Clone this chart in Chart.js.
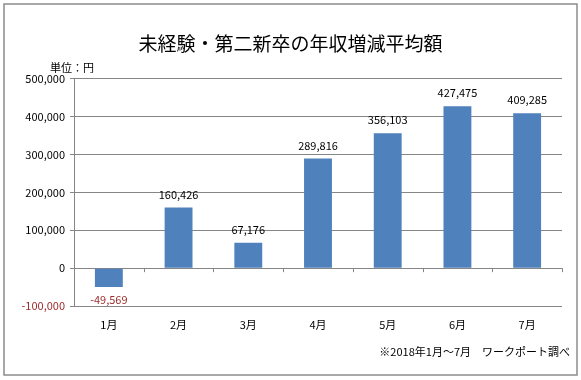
<!DOCTYPE html>
<html><head><meta charset="utf-8">
<script src="https://cdn.jsdelivr.net/npm/chart.js@4/dist/chart.umd.min.js"></script>
<style>html,body{margin:0;padding:0;background:#fff;}canvas{display:block;}</style>
</head><body>
<canvas id="c" width="581" height="380"></canvas>
<script>
const categories = ['1月','2月','3月','4月','5月','6月','7月'];
const values = [-49569, 160426, 67176, 289816, 356103, 427475, 409285];
const yTicks = [-100000, 0, 100000, 200000, 300000, 400000, 500000];
const titleText = '未経験・第二新卒の年収増減平均額';
const unitText = '単位：円';
const noteText = '※2018年1月〜7月　ワークポート調べ';

const JP = '"Noto Sans CJK JP", "Noto Sans", sans-serif';
const NEG = '#9b2d2d';
const fmt = v => v.toLocaleString('en-US');

const extras = {
  id: 'extras',
  beforeDraw(chart) {
    const c = chart.ctx;
    c.save();
    c.fillStyle = '#fff';
    c.fillRect(0, 0, chart.width, chart.height);
    c.strokeStyle = '#8c8c8c';
    c.lineWidth = 1.5;
    c.strokeRect(4, 4, 573, 371);
    c.restore();
  },
  afterDatasetsDraw(chart) {
    const c = chart.ctx;
    const x = chart.scales.x, y = chart.scales.y;
    const y0 = y.getPixelForValue(0);
    c.save();
    c.strokeStyle = '#868686';
    c.lineWidth = 1;
    for (let i = 0; i <= categories.length; i++) {
      const px = Math.round(x.getPixelForValue(i - 0.5)) + 0.5;
      c.beginPath(); c.moveTo(px, y0); c.lineTo(px, y0 + 4); c.stroke();
    }
    c.font = '11px ' + JP;
    c.textAlign = 'center';
    c.textBaseline = 'middle';
    const meta = chart.getDatasetMeta(0);
    meta.data.forEach((el, i) => {
      const v = values[i];
      c.fillStyle = v < 0 ? NEG : '#000';
      c.fillText(fmt(v), el.x, v < 0 ? el.y + 13 : el.y - 13);
    });
    c.fillStyle = '#000';
    c.textAlign = 'left';
    c.font = '11px ' + JP;
    c.fillText(unitText, 50, 68);
    c.textAlign = 'right';
    c.fillText(noteText, 570, 352);
    c.restore();
  }
};

new Chart(document.getElementById('c'), {
  type: 'bar',
  data: {
    labels: categories,
    datasets: [{
      data: values,
      backgroundColor: '#4f81bd',
      borderWidth: 0,
      categoryPercentage: 1,
      barPercentage: 0.4
    }]
  },
  options: {
    responsive: false,
    animation: false,
    devicePixelRatio: 1,
    layout: { padding: { top: 20, right: 19, bottom: 0, left: 19 } },
    plugins: {
      legend: { display: false },
      tooltip: { enabled: false },
      title: {
        display: true,
        text: titleText,
        color: '#000',
        font: { family: JP, size: 19, weight: 'normal' },
        padding: { top: 12, bottom: 24 }
      }
    },
    scales: {
      x: {
        grid: { display: false, drawTicks: false },
        border: { display: false },
        ticks: { color: '#000', font: { family: JP, size: 11 }, padding: 12 },
        afterFit(s) { s.height = 74; }
      },
      y: {
        min: -100000, max: 500000,
        afterBuildTicks(s) { s.ticks = yTicks.map(v => ({ value: v })); },
        grid: { color: '#868686', lineWidth: 1, tickLength: 4 },
        border: { display: true, color: '#868686', width: 1 },
        ticks: {
          color: ctx => ctx.tick.value < 0 ? NEG : '#000',
          font: { family: JP, size: 11 },
          padding: 5,
          callback: v => fmt(v)
        },
        afterFit(s) { s.width = 55; }
      }
    }
  },
  plugins: [extras]
});
</script>
</body></html>
